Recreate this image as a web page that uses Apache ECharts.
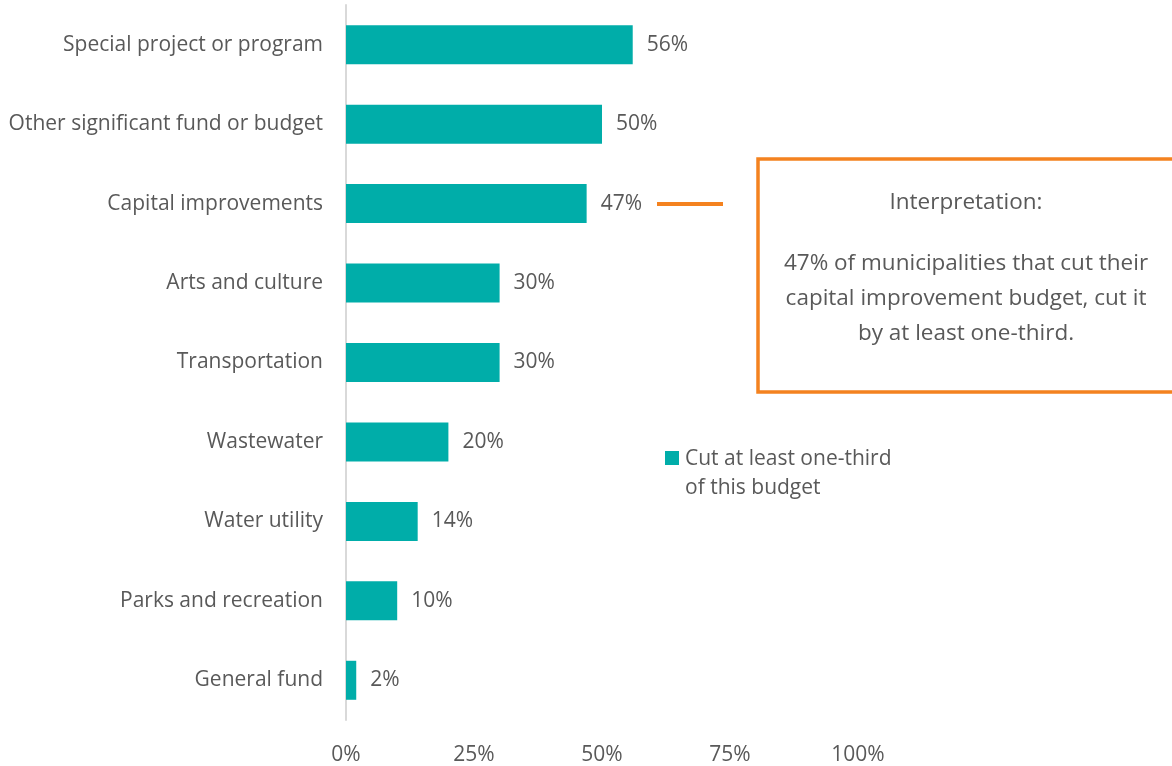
<!DOCTYPE html>
<html>
<head>
<meta charset="utf-8">
<script src="https://cdn.jsdelivr.net/npm/echarts@6/dist/echarts.min.js"></script>
<style>
  html, body { margin: 0; padding: 0; background: #ffffff; }
  #chart { width: 1172px; height: 766px; }
</style>
</head>
<body>
<div id="chart"></div>
<script>
// Budget categories, listed bottom to top as drawn on the category axis
const categories = [
  'General fund',
  'Parks and recreation',
  'Water utility',
  'Wastewater',
  'Transportation',
  'Arts and culture',
  'Capital improvements',
  'Other significant fund or budget',
  'Special project or program'
];
// Share of municipalities that cut at least one-third of this budget (%)
const cutShare = [2, 10, 14, 20, 30, 30, 47, 50, 56];
const xTicks = [0, 25, 50, 75, 100];
const seriesName = 'Cut at least one-third of this budget';
const noteTitle = 'Interpretation:';
const noteBody = '47% of municipalities that cut their\ncapital improvement budget, cut it\nby at least one-third.';

const FONT = '"Open Sans", "Noto Sans", sans-serif';
const TEXT = '#595959';
const TEAL = '#00ADA9';
const ORANGE = '#F4821F';

const chart = echarts.init(document.getElementById('chart'));
chart.setOption({
  backgroundColor: '#ffffff',
  animation: false,
  textStyle: { fontFamily: FONT },
  grid: { left: 346, right: 314, top: 5, bottom: 46, containLabel: false },
  xAxis: {
    type: 'value',
    min: xTicks[0],
    max: xTicks[xTicks.length - 1],
    interval: 25,
    axisLine: { show: false },
    axisTick: { show: false },
    splitLine: { show: false },
    axisLabel: {
      color: TEXT, fontSize: 21, fontFamily: FONT, margin: 25,
      formatter: v => v + '%'
    }
  },
  yAxis: {
    type: 'category',
    data: categories,
    axisLine: { show: true, lineStyle: { color: '#D9D9D9', width: 2 } },
    axisTick: { show: false },
    axisLabel: { color: TEXT, fontSize: 21, fontFamily: FONT, margin: 23, padding: [4, 0, 0, 0] }
  },
  series: [{
    name: seriesName,
    type: 'bar',
    data: cutShare,
    barWidth: 39,
    itemStyle: { color: TEAL },
    label: {
      show: true,
      position: 'right',
      distance: 14,
      color: TEXT,
      fontSize: 21,
      fontFamily: FONT,
      padding: [4, 0, 0, 0],
      formatter: p => p.value + '%'
    }
  }],
  graphic: [
    // connector from the capital improvements label to the note
    { type: 'line', shape: { x1: 657, y1: 204, x2: 723, y2: 204 },
      style: { stroke: ORANGE, lineWidth: 4 } },
    // note box
    { type: 'rect', shape: { x: 758, y: 159, width: 420, height: 233 },
      style: { fill: '#ffffff', stroke: ORANGE, lineWidth: 3.5 } },
    { type: 'text', x: 966, y: 203,
      style: { text: noteTitle, fill: TEXT, font: '22.5px ' + FONT,
               textAlign: 'center', textVerticalAlign: 'middle' } },
    { type: 'text', x: 966, y: 299,
      style: { text: noteBody, fill: TEXT, font: '22.5px ' + FONT,
               textAlign: 'center', textVerticalAlign: 'middle', lineHeight: 35 } },
    // legend
    { type: 'rect', shape: { x: 665, y: 451, width: 14, height: 14 },
      style: { fill: TEAL } },
    { type: 'text', x: 685, y: 445,
      style: { text: 'Cut at least one-third\nof this budget', fill: TEXT,
               font: '21px ' + FONT, lineHeight: 29, textAlign: 'left', textVerticalAlign: 'top' } }
  ]
});
</script>
</body>
</html>
